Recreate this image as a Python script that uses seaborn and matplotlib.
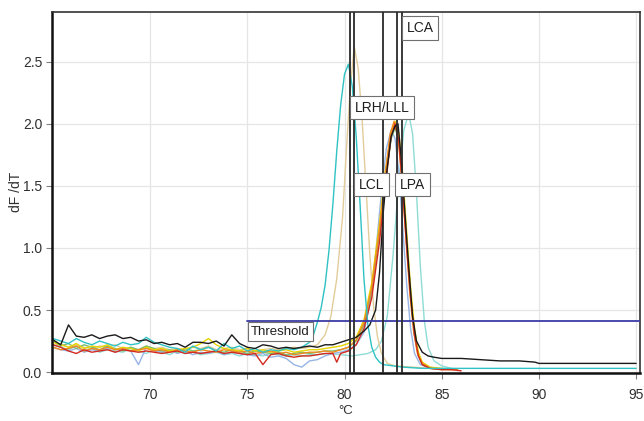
import matplotlib
matplotlib.use("Agg")
import matplotlib.pyplot as plt
import seaborn as sns
import pandas as pd

# ---------------- data ----------------
t_low = [65.0, 65.4, 65.8, 66.2, 66.6, 67.0, 67.4, 67.8, 68.2, 68.6, 69.0, 69.4,
         69.8, 70.2, 70.6, 71.0, 71.4, 71.8, 72.2, 72.6, 73.0, 73.4, 73.8, 74.2,
         74.6, 75.0, 75.4, 75.8, 76.2, 76.6, 77.0, 77.4, 77.8, 78.2]

black_low = [0.26, 0.22, 0.38, 0.29, 0.28, 0.30, 0.27, 0.29, 0.30, 0.27, 0.28, 0.25,
             0.26, 0.23, 0.24, 0.22, 0.23, 0.20, 0.24, 0.24, 0.23, 0.25, 0.21, 0.30,
             0.23, 0.20, 0.19, 0.22, 0.21, 0.19, 0.20, 0.19, 0.20, 0.21]
black_peak = [(78.6, 0.20), (79.0, 0.22), (79.4, 0.22), (79.8, 0.24), (80.2, 0.26), (80.6, 0.28),
              (81.0, 0.33), (81.3, 0.38), (81.6, 0.50), (81.8, 0.80), (82.0, 1.30), (82.2, 1.65),
              (82.4, 1.90), (82.6, 1.98), (82.75, 2.00), (82.9, 1.75), (83.1, 1.30), (83.3, 0.85),
              (83.5, 0.45), (83.7, 0.25), (84.0, 0.16), (84.3, 0.13), (84.6, 0.12), (85.0, 0.11),
              (86.0, 0.11), (87.0, 0.10), (88.0, 0.09), (89.0, 0.09), (89.8, 0.08), (90.0, 0.07),
              (91.0, 0.07), (92.0, 0.07), (93.0, 0.07), (94.0, 0.07), (95.0, 0.07)]

red_low = [0.22, 0.20, 0.17, 0.15, 0.18, 0.16, 0.17, 0.18, 0.16, 0.18, 0.17, 0.16,
           0.17, 0.16, 0.15, 0.16, 0.17, 0.15, 0.16, 0.15, 0.16, 0.17, 0.15, 0.16,
           0.15, 0.14, 0.15, 0.06, 0.14, 0.15, 0.13, 0.12, 0.13, 0.13]
red_peak = [(78.6, 0.14), (79.0, 0.15), (79.4, 0.15), (79.6, 0.08), (79.8, 0.15), (80.2, 0.17),
            (80.6, 0.22), (81.0, 0.35), (81.4, 0.60), (81.8, 1.05), (82.1, 1.50), (82.4, 1.90),
            (82.6, 2.00), (82.8, 1.85), (83.0, 1.45), (83.2, 1.00), (83.4, 0.60), (83.6, 0.30),
            (83.8, 0.13), (84.0, 0.06), (84.4, 0.03), (85.0, 0.02), (85.5, 0.02), (86.0, 0.01)]

orange_low = [0.20, 0.18, 0.19, 0.21, 0.17, 0.19, 0.18, 0.20, 0.18, 0.19, 0.17, 0.18,
              0.19, 0.17, 0.18, 0.16, 0.18, 0.17, 0.16, 0.18, 0.17, 0.16, 0.18, 0.17,
              0.16, 0.17, 0.15, 0.16, 0.17, 0.15, 0.16, 0.14, 0.15, 0.16]
orange_peak = [(78.6, 0.16), (79.0, 0.17), (79.4, 0.16), (79.8, 0.18), (80.2, 0.20), (80.6, 0.26),
               (81.0, 0.40), (81.4, 0.68), (81.8, 1.15), (82.1, 1.60), (82.35, 1.92), (82.55, 2.02),
               (82.75, 1.90), (82.95, 1.55), (83.15, 1.10), (83.35, 0.65), (83.55, 0.33), (83.75, 0.15),
               (84.0, 0.07), (84.4, 0.03), (85.0, 0.02), (85.8, 0.02)]

yellow_low = [0.24, 0.22, 0.20, 0.23, 0.19, 0.21, 0.20, 0.22, 0.18, 0.20, 0.19, 0.17,
              0.20, 0.18, 0.19, 0.17, 0.18, 0.19, 0.20, 0.23, 0.27, 0.22, 0.19, 0.18,
              0.17, 0.19, 0.17, 0.18, 0.16, 0.17, 0.18, 0.16, 0.17, 0.18]
yellow_peak = [(78.6, 0.18), (79.0, 0.19), (79.4, 0.20), (79.8, 0.21), (80.2, 0.23), (80.6, 0.28),
               (81.0, 0.42), (81.4, 0.72), (81.8, 1.20), (82.1, 1.62), (82.4, 1.93), (82.6, 2.02),
               (82.8, 1.92), (83.0, 1.58), (83.2, 1.12), (83.4, 0.68), (83.6, 0.35), (83.8, 0.16),
               (84.0, 0.08), (84.4, 0.04), (85.0, 0.03), (85.6, 0.02)]

teal_low = [0.27, 0.25, 0.23, 0.27, 0.24, 0.22, 0.25, 0.23, 0.21, 0.24, 0.22, 0.23,
            0.28, 0.24, 0.22, 0.20, 0.19, 0.16, 0.21, 0.18, 0.20, 0.17, 0.23, 0.19,
            0.21, 0.17, 0.19, 0.16, 0.18, 0.17, 0.19, 0.18, 0.20, 0.24]
teal_peak = [(78.4, 0.30), (78.6, 0.40), (78.8, 0.52), (79.0, 0.70), (79.2, 0.98), (79.4, 1.35),
             (79.6, 1.78), (79.8, 2.15), (80.0, 2.40), (80.2, 2.48), (80.4, 2.30), (80.6, 1.90),
             (80.8, 1.35), (81.0, 0.75), (81.2, 0.38), (81.4, 0.20), (81.6, 0.12), (81.8, 0.08),
             (82.0, 0.06), (82.5, 0.05), (83.0, 0.04), (84.0, 0.03), (85.0, 0.03), (87.0, 0.03),
             (90.0, 0.03), (92.0, 0.03), (95.0, 0.03)]

tan_low = [0.21, 0.23, 0.20, 0.22, 0.20, 0.19, 0.21, 0.20, 0.22, 0.19, 0.20, 0.18,
           0.21, 0.19, 0.20, 0.18, 0.19, 0.18, 0.20, 0.19, 0.21, 0.18, 0.19, 0.20,
           0.18, 0.19, 0.17, 0.18, 0.19, 0.18, 0.19, 0.20, 0.19, 0.20]
tan_peak = [(78.6, 0.22), (79.0, 0.30), (79.3, 0.45), (79.6, 0.75), (79.9, 1.25), (80.1, 1.80),
            (80.3, 2.30), (80.5, 2.62), (80.7, 2.45), (80.9, 2.05), (81.1, 1.50), (81.3, 0.95),
            (81.5, 0.52), (81.7, 0.28), (81.9, 0.15), (82.2, 0.07), (82.6, 0.05), (83.5, 0.04),
            (84.5, 0.03)]

lteal_low = [0.22, 0.20, 0.18, 0.21, 0.17, 0.19, 0.16, 0.18, 0.17, 0.16, 0.19, 0.17,
             0.15, 0.18, 0.16, 0.14, 0.17, 0.15, 0.16, 0.14, 0.15, 0.16, 0.14, 0.15,
             0.13, 0.15, 0.14, 0.13, 0.15, 0.14, 0.13, 0.14, 0.13, 0.14]
lteal_peak = [(78.6, 0.14), (79.2, 0.15), (79.8, 0.14), (80.4, 0.13), (80.8, 0.14), (81.2, 0.15),
              (81.6, 0.18), (81.9, 0.25), (82.2, 0.45), (82.5, 0.95), (82.8, 1.55), (83.05, 1.95),
              (83.3, 2.08), (83.5, 1.92), (83.7, 1.45), (83.9, 0.85), (84.1, 0.42), (84.3, 0.20),
              (84.6, 0.09), (85.0, 0.05), (85.5, 0.03)]

lblue_low = [0.20, 0.18, 0.17, 0.19, 0.16, 0.18, 0.17, 0.19, 0.16, 0.18, 0.17, 0.06,
             0.20, 0.17, 0.16, 0.18, 0.15, 0.17, 0.14, 0.16, 0.15, 0.17, 0.14, 0.16,
             0.15, 0.14, 0.13, 0.15, 0.12, 0.13, 0.11, 0.06, 0.04, 0.09]
lblue_peak = [(78.6, 0.10), (79.0, 0.13), (79.4, 0.15), (79.8, 0.16), (80.2, 0.18), (80.6, 0.22),
              (81.0, 0.32), (81.3, 0.55), (81.6, 0.95), (81.9, 1.45), (82.15, 1.80), (82.4, 1.95),
              (82.6, 1.88), (82.8, 1.60), (83.0, 1.15), (83.2, 0.70), (83.4, 0.35), (83.6, 0.15),
              (83.9, 0.06), (84.4, 0.03), (85.0, 0.02)]

green_low = [0.25, 0.21, 0.23, 0.19, 0.22, 0.20, 0.18, 0.21, 0.19, 0.17, 0.20, 0.18,
             0.21, 0.19, 0.17, 0.18, 0.16, 0.19, 0.17, 0.18, 0.20, 0.17, 0.16, 0.18,
             0.17, 0.15, 0.17, 0.16, 0.15, 0.16, 0.14, 0.15, 0.16, 0.15]
green_peak = [(78.6, 0.16), (79.0, 0.17), (79.4, 0.17), (79.8, 0.18), (80.2, 0.20), (80.6, 0.25),
              (81.0, 0.38), (81.4, 0.66), (81.8, 1.12), (82.1, 1.55), (82.4, 1.88), (82.6, 1.97),
              (82.8, 1.86), (83.0, 1.50), (83.2, 1.05), (83.4, 0.62), (83.6, 0.30), (83.8, 0.13),
              (84.0, 0.06), (84.5, 0.03), (85.5, 0.02)]

# draw order (first = bottom)
series = [
    ("lteal", "#8fdcd4", lteal_low, lteal_peak),
    ("lblue", "#98b4e4", lblue_low, lblue_peak),
    ("tan", "#e2cc9a", tan_low, tan_peak),
    ("green", "#78c070", green_low, green_peak),
    ("yellow", "#e6d400", yellow_low, yellow_peak),
    ("orange", "#f08a20", orange_low, orange_peak),
    ("red", "#d42a1e", red_low, red_peak),
    ("teal", "#2fc2c4", teal_low, teal_peak),
    ("black", "#1a1a1a", black_low, black_peak),
]

marker_names = ["LCL", "LRH", "LLL", "LPA", "LCA"]
marker_temps = [80.29, 80.48, 81.97, 82.70, 82.95]

label_texts = ["LCA", "LRH/LLL", "LCL", "LPA"]
label_x = [83.89, 81.93, 81.40, 83.50]
label_y = [2.77, 2.13, 1.51, 1.51]

threshold_value = 0.415
threshold_start = 75.0
threshold_end = 95.2
threshold_label_y = 0.325

x_ticks = [70, 75, 80, 85, 90, 95]
y_ticks = [0.0, 0.5, 1.0, 1.5, 2.0, 2.5]

# ---------------- build frame ----------------
rows = []
for name, color, low, peak in series:
    for t, v in zip(t_low, low):
        rows.append((name, t, v))
    for t, v in peak:
        rows.append((name, t, v))
df = pd.DataFrame(rows, columns=["sample", "temp", "dfdt"])
palette = {name: color for name, color, _, _ in series}

# ---------------- plot ----------------
sns.set_theme(style="white")
plt.rcParams["font.family"] = ["Liberation Sans", "DejaVu Sans"]

fig = plt.figure(figsize=(6.44, 4.21), dpi=100)
ax = fig.add_axes([0.0807, 0.1147, 0.9131, 0.8568])

ax.grid(True, color="#e6e6e6", linewidth=0.9)
ax.set_axisbelow(True)

sns.lineplot(data=df, x="temp", y="dfdt", hue="sample", hue_order=[s[0] for s in series],
             palette=palette, legend=False, sort=False, estimator=None,
             linewidth=1.0, ax=ax)

# threshold
ax.plot([threshold_start, threshold_end], [threshold_value, threshold_value],
        color="#3b3ba6", linewidth=1.3, zorder=5)
ax.text(threshold_start + 0.2, threshold_label_y, "Threshold", fontsize=9.5,
        color="#202020", ha="left", va="center", zorder=6,
        bbox=dict(boxstyle="square,pad=0.25", facecolor="white", edgecolor="#707070", linewidth=0.8))

# vertical markers
for t in marker_temps:
    ax.axvline(t, color="#2a2a2a", linewidth=1.3, zorder=6)

for txt, x, y in zip(label_texts, label_x, label_y):
    ax.text(x, y, txt, fontsize=10, color="#202020", ha="center", va="center", zorder=7,
            bbox=dict(boxstyle="square,pad=0.34", facecolor="white", edgecolor="#707070", linewidth=0.8))

ax.set_xlim(64.95, 95.2)
ax.set_ylim(-0.005, 2.9)
ax.set_xticks(x_ticks)
ax.set_yticks(y_ticks)
ax.set_yticklabels([f"{v:.1f}" for v in y_ticks])
ax.tick_params(axis="both", which="both", length=4, width=0.8, color="#808080",
               labelsize=10, labelcolor="#303030", direction="out", bottom=True, left=True)
ax.tick_params(axis="x", pad=7)
ax.tick_params(axis="y", pad=3)

for side in ["left", "bottom"]:
    ax.spines[side].set_color("#111111")
    ax.spines[side].set_linewidth(1.8)
for side in ["top", "right"]:
    ax.spines[side].set_color("#333333")
    ax.spines[side].set_linewidth(1.2)

ax.set_xlabel("°C", fontsize=9.5, color="#303030", labelpad=2)
ax.set_ylabel("dF /dT", fontsize=10, color="#303030", labelpad=0)

fig.savefig("out.png", dpi=100)
